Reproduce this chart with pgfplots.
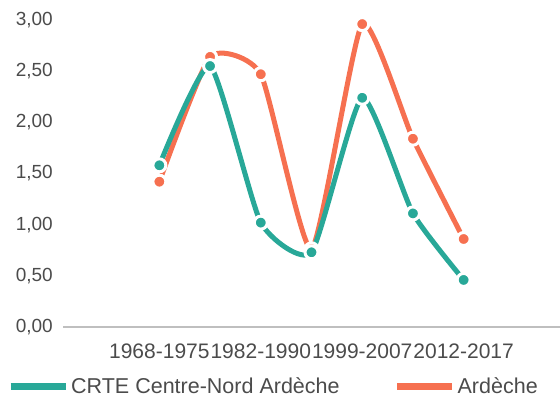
\documentclass[border=0pt]{standalone}
\usepackage{fontspec}
\setmainfont{Liberation Sans}
\usepackage{pgfplots}
\pgfplotsset{compat=1.18}
\definecolor{tealc}{RGB}{40,168,152}
\definecolor{orangec}{RGB}{246,112,80}
\definecolor{txt}{RGB}{75,75,75}
\begin{document}
\begin{tikzpicture}
\path[use as bounding box] (0pt,0pt) rectangle (560pt,400pt);
\begin{axis}[
  at={(63pt,73pt)}, anchor=south west,
  scale only axis, width=497pt, height=307pt,
  xmin=-1.9, xmax=7.9, ymin=0, ymax=3,
  axis x line*=bottom, axis y line*=left,
  y axis line style={draw=none},
  x axis line style={draw=black!25, line width=2pt},
  xtick={0,2,4,6},
  xticklabels={1968-1975,1982-1990,1999-2007,2012-2017},
  ytick={0,0.5,1,1.5,2,2.5,3},
  major tick length=0pt,
  yticklabel style={/pgf/number format/fixed, /pgf/number format/fixed zerofill,
    /pgf/number format/precision=2, /pgf/number format/use comma,
    /pgf/number format/assume math mode=true,
    font=\fontsize{19}{19}\selectfont, text=txt, anchor=east, inner sep=0pt, xshift=-10pt},
  xticklabel style={font=\fontsize{21}{21}\selectfont, text=txt, anchor=north, inner sep=0pt, yshift=-17pt},
  clip=false,
  legend style={at={(axis description cs:-0.1127,-0.193)}, anchor=west, draw=none, fill=none,
    inner sep=0pt, legend columns=2, font=\fontsize{21.5}{21.5}\selectfont, text=txt,
    nodes={inner ysep=0pt},
    /tikz/every even column/.append style={column sep=52pt}},
  legend image code/.code={\draw[#1, line width=7pt] (0pt,0pt) -- (55pt,0pt);},
]
\addplot[orangec, line width=5pt, smooth, tension=0.32, line cap=round,
  mark=*, mark size=6.5pt, mark options={fill=orangec, draw=white, line width=3pt}, forget plot]
  coordinates {(0,1.42) (1,2.64) (2,2.47) (3,0.76) (4,2.96) (5,1.84) (6,0.86)};
\addplot[tealc, line width=5pt, smooth, tension=0.32, line cap=round,
  mark=*, mark size=6.5pt, mark options={fill=tealc, draw=white, line width=3pt}, forget plot]
  coordinates {(0,1.58) (1,2.55) (2,1.02) (3,0.73) (4,2.24) (5,1.11) (6,0.46)};
\addlegendimage{tealc}
\addlegendentry{CRTE Centre-Nord Ardèche}
\addlegendimage{orangec}
\addlegendentry{Ardèche}
\end{axis}
\end{tikzpicture}
\end{document}
